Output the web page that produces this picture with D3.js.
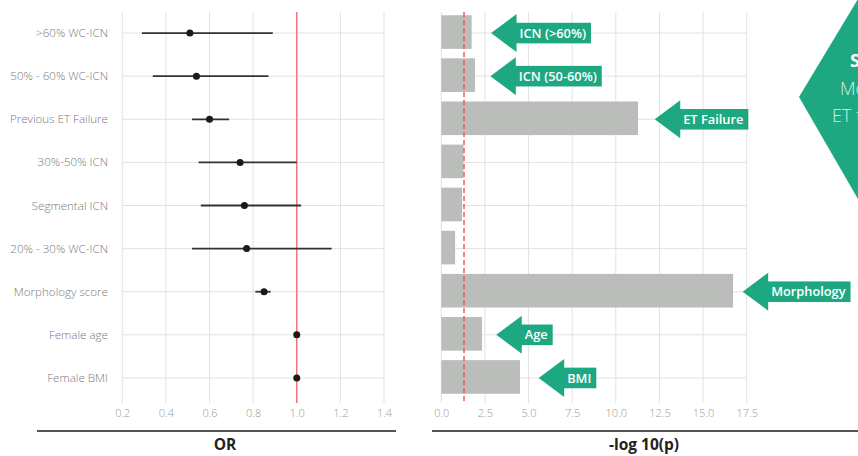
<!DOCTYPE html>
<html>
<head>
<meta charset="utf-8">
<script src="https://cdn.jsdelivr.net/npm/d3@7"></script>
<style>
  body { margin: 0; background: #fff; }
  svg { display: block; font-family: "Open Sans", Lato, sans-serif; }
</style>
</head>
<body>
<div id="chart"></div>
<script>
'use strict';

// rows, top to bottom
var categories = ['>60% WC-ICN', '50% - 60% WC-ICN', 'Previous ET Failure', '30%-50% ICN',
                  'Segmental ICN', '20% - 30% WC-ICN', 'Morphology score', 'Female age', 'Female BMI'];
var orValues = [0.51, 0.54, 0.60, 0.74, 0.76, 0.77, 0.85, 1.00, 1.00];
var orLow    = [0.29, 0.34, 0.52, 0.55, 0.56, 0.52, 0.81, 0.995, 0.995];
var orHigh   = [0.89, 0.87, 0.69, 1.00, 1.02, 1.16, 0.88, 1.005, 1.005];
var logP     = [1.74, 1.93, 11.27, 1.27, 1.19, 0.79, 16.72, 2.33, 4.51];

var orTicks = [0.2, 0.4, 0.6, 0.8, 1.0, 1.2, 1.4];
var pTicks  = [0, 2.5, 5, 7.5, 10, 12.5, 15, 17.5];
var pThreshold = -Math.log10(0.05);

// callout arrows on the right panel (tip position in -log10 units)
var calloutLabels = ['ICN (>60%)', 'ICN (50-60%)', 'ET Failure', 'Morphology', 'Age', 'BMI'];
var calloutRows   = [0, 1, 2, 6, 7, 8];
var calloutTips   = [2.85, 2.81, 12.23, 17.27, 3.15, 5.58];

var sideLines = ['Significant:', 'Morphology', 'ET failure'];

var W = 858, H = 456;
var plotTop = 12, plotBottom = 403;
var green = '#1ea882';
var gridCol = '#e2e2e2';

var svg = d3.select('#chart').append('svg').attr('width', W).attr('height', H);

var yBand = d3.scaleBand().domain(categories).range([11.5, 399.5]).paddingInner(0.22).paddingOuter(0.11);
var yMid = function (c) { return yBand(c) + yBand.bandwidth() / 2; };

// ---------- left panel: OR forest plot ----------
var xOr = d3.scaleLinear().domain([0.2, 1.4]).range([122.3, 384]);
var leftG = svg.append('g');

leftG.selectAll('.vgrid').data(orTicks).enter().append('line')
    .attr('x1', function (d) { return xOr(d); }).attr('x2', function (d) { return xOr(d); })
    .attr('y1', plotTop).attr('y2', plotBottom)
    .attr('stroke', gridCol).attr('stroke-width', 1);
leftG.selectAll('.hgrid').data(categories).enter().append('line')
    .attr('x1', xOr(0.2)).attr('x2', xOr(1.4))
    .attr('y1', yMid).attr('y2', yMid)
    .attr('stroke', gridCol).attr('stroke-width', 1);

leftG.append('line')
    .attr('x1', xOr(1)).attr('x2', xOr(1)).attr('y1', plotTop).attr('y2', plotBottom)
    .attr('stroke', '#f07878').attr('stroke-width', 1.5);

var rows = categories.map(function (c, i) {
    return {name: c, or: orValues[i], lo: orLow[i], hi: orHigh[i], p: logP[i]};
});

leftG.selectAll('.err').data(rows).enter().append('line')
    .attr('x1', function (d) { return xOr(d.lo); }).attr('x2', function (d) { return xOr(d.hi); })
    .attr('y1', function (d) { return yMid(d.name); }).attr('y2', function (d) { return yMid(d.name); })
    .attr('stroke', '#333').attr('stroke-width', 1.8);
leftG.selectAll('.pt').data(rows).enter().append('circle')
    .attr('cx', function (d) { return xOr(d.or); })
    .attr('cy', function (d) { return yMid(d.name); })
    .attr('r', 3.5).attr('fill', '#1a1a1a');

leftG.selectAll('.lab').data(categories).enter().append('text')
    .attr('x', 108).attr('y', yMid).attr('dy', '0.35em')
    .attr('text-anchor', 'end').attr('font-size', 11.6).attr('font-weight', 300).attr('fill', '#7a7a7a')
    .text(function (d) { return d; });

var axOr = leftG.append('g').attr('transform', 'translate(0,' + plotBottom + ')')
    .call(d3.axisBottom(xOr).tickValues(orTicks).tickSize(0).tickPadding(6).tickFormat(d3.format('.1f')));
axOr.select('.domain').remove();
axOr.selectAll('text').attr('font-size', 11).attr('font-weight', 300).attr('fill', '#999')
    .attr('font-family', '"Open Sans", sans-serif');

svg.append('line').attr('x1', 37).attr('x2', 396).attr('y1', 431).attr('y2', 431)
    .attr('stroke', '#555').attr('stroke-width', 2);
svg.append('text').attr('x', 225).attr('y', 450).attr('text-anchor', 'middle')
    .attr('font-size', 15.5).attr('font-weight', 'bold').attr('fill', '#222').text('OR');

// ---------- right panel: -log10(p) bars ----------
var xP = d3.scaleLinear().domain([0, 17.5]).range([441.3, 746.7]);
var rightG = svg.append('g');

rightG.selectAll('.vgrid').data(pTicks).enter().append('line')
    .attr('x1', function (d) { return xP(d); }).attr('x2', function (d) { return xP(d); })
    .attr('y1', plotTop).attr('y2', plotBottom)
    .attr('stroke', gridCol).attr('stroke-width', 1);
rightG.selectAll('.hgrid').data(categories).enter().append('line')
    .attr('x1', xP(0)).attr('x2', xP(17.5))
    .attr('y1', yMid).attr('y2', yMid)
    .attr('stroke', gridCol).attr('stroke-width', 1);

rightG.selectAll('.bar').data(rows).enter().append('rect')
    .attr('x', xP(0))
    .attr('y', function (d) { return yBand(d.name) - 1; })
    .attr('width', function (d) { return xP(d.p) - xP(0); })
    .attr('height', yBand.bandwidth())
    .attr('fill', '#bbbdbb');

rightG.append('line')
    .attr('x1', xP(pThreshold)).attr('x2', xP(pThreshold)).attr('y1', plotTop).attr('y2', plotBottom)
    .attr('stroke', '#ee5a5a').attr('stroke-width', 1.5).attr('stroke-dasharray', '5,3');

var axP = rightG.append('g').attr('transform', 'translate(0,' + plotBottom + ')')
    .call(d3.axisBottom(xP).tickValues(pTicks).tickSize(0).tickPadding(6).tickFormat(d3.format('.1f')));
axP.select('.domain').remove();
axP.selectAll('text').attr('font-size', 11).attr('font-weight', 300).attr('fill', '#999')
    .attr('font-family', '"Open Sans", sans-serif');

svg.append('line').attr('x1', 432).attr('x2', W).attr('y1', 431).attr('y2', 431)
    .attr('stroke', '#555').attr('stroke-width', 2);
svg.append('text').attr('x', 644).attr('y', 450).attr('text-anchor', 'middle')
    .attr('font-size', 15.5).attr('font-weight', 'bold').attr('fill', '#222').text('-log 10(p)');

// callout arrows
var headLen = 25.5, headHalf = 19, bodyHalf = 10.3;
calloutLabels.forEach(function (label, i) {
    var tip = xP(calloutTips[i]);
    var cy = yMid(categories[calloutRows[i]]);
    var g = svg.append('g');
    var body = g.append('rect').attr('fill', green);
    g.append('path')
        .attr('d', 'M' + tip + ',' + cy + 'L' + (tip + headLen) + ',' + (cy - headHalf) +
                   'L' + (tip + headLen) + ',' + (cy + headHalf) + 'Z')
        .attr('fill', green);
    var t = g.append('text').attr('x', tip + headLen + 3).attr('y', cy).attr('dy', '0.36em')
        .attr('font-size', 12.8).attr('font-weight', 600).attr('fill', '#fff').text(label);
    var tw = t.node().getComputedTextLength();
    body.attr('x', tip + headLen - 1).attr('y', cy - bodyHalf)
        .attr('width', tw + 9).attr('height', bodyHalf * 2);
});

// side panel shape, cut by the page edge
svg.append('path')
    .attr('d', 'M799,97L858,-1L900,-1L900,199L858,199Z')
    .attr('fill', green);
svg.selectAll('.side').data(sideLines).enter().append('text')
    .attr('x', function (d, i) { return [850, 840, 832][i]; })
    .attr('y', function (d, i) { return 67 + i * 27.5; })
    .attr('font-size', 18)
    .attr('font-weight', function (d, i) { return i === 0 ? 'bold' : 300; })
    .attr('fill', function (d, i) { return i === 0 ? '#fff' : '#d6efe6'; })
    .text(function (d) { return d; });
</script>
</body>
</html>
